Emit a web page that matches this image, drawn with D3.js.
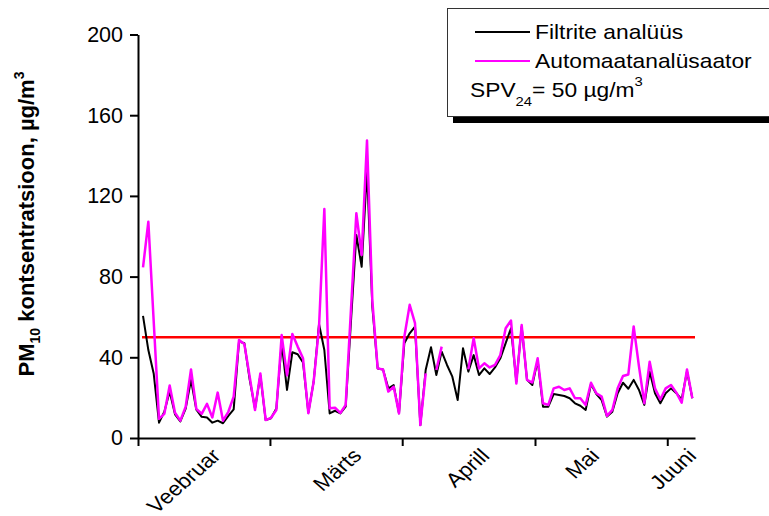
<!DOCTYPE html>
<html>
<head>
<meta charset="utf-8">
<script src="https://cdn.jsdelivr.net/npm/d3@7"></script>
<style>
  html, body { margin: 0; padding: 0; background: #fff; }
  svg { display: block; font-family: Arial, "Liberation Sans", sans-serif; }
</style>
</head>
<body>
<svg id="chart" width="769" height="516"></svg>
<script>
// daily values, Feb .. start of June (104 points)
var filtrite = [
  60.5, 43.6, 32, 7.6, 13, 23, 11.7, 8.2, 14.6, 28.8,
  14, 10.5, 10.2, 7.6, 8.6, 7.3, 11, 14.2, 47.8, 47,
  29, 14.6, 31, 8.9, 9.8, 14.6, 47, 23.8, 42.5, 41.5,
  37.5, 12.6, 28, 56.5, 43.6, 12.2, 13.5, 12.2, 15.5, 58,
  100.6, 84.9, 133, 65, 34.5, 34, 24.6, 26.2, 12.2, 47,
  51.9, 55.2, 6.4, 33.7, 45, 31.2, 42.8, 36.2, 30.4, 18.8,
  44.5, 32.9, 41.1, 31.2, 34.5, 31.7, 35, 39.5, 47, 54.4,
  27.9, 55.2, 28.8, 26.3, 38.5, 15.5, 15.5, 21.8, 21.3, 20.8,
  19.7, 17.2, 16, 13.9, 26.8, 21.8, 18.8, 10.6, 13, 22.2,
  27.4, 24.4, 28.8, 23.8, 16.4, 32.9, 22.2, 17.2, 22.2, 24.6,
  22.2, 19.1, 33, 19.7
];
var automaat = [
  84.6, 107.2, 58, 9.5, 12, 26, 12.5, 8.6, 15.5, 34,
  14.4, 12, 16.9, 10.2, 22.5, 8.6, 13, 20.5, 48.6, 46.6,
  30.4, 13.9, 32, 8.9, 10, 13.9, 51, 31, 51.6, 45.3,
  39.5, 12.3, 28, 55, 113.5, 14.7, 15, 12.4, 16.4, 64,
  111.4, 90.7, 147.5, 68, 34.5, 34, 23, 25.4, 12.2, 50.2,
  66, 56.9, 6.4, 32, null, 33.7, 45.3, null, null, null,
  null, 34, 49.4, 34.5, 37, 35, 36.2, 41.1, 54.4, 58.2,
  27, 56, 28.8, 27.5, 39.5, 17.2, 16.4, 24.6, 25.4, 23.8,
  24.6, 19.7, 19.7, 16.4, 27.4, 22.2, 20.5, 11, 13.9, 24.6,
  30.7, 31.5, 55.3, 35.4, 17.2, 37.8, 24.6, 19.1, 24.6, 26.3,
  22.5, 17.5, 34, 19.7
];
var limitValue = 50;
var yTicks = [0, 40, 80, 120, 160, 200];
var tickPos = [-0.94, 23.8, 48.6, 73.5, 98.3];
var monthLabels = ["Veebruar", "Märts", "Aprill", "Mai", "Juuni"];
var monthPos = [14.8, 41.2, 65.2, 85.8, 104];

// the original picture is a bit wider than tall, text looks stretched
var stretch = "scale(1.14,1)";

var svg = d3.select("#chart");
svg.append("rect").attr("width", 769).attr("height", 516).attr("fill", "#fff");

var x = d3.scaleLinear().domain([-0.94, 103.5]).range([138, 695]);
var y = d3.scaleLinear().domain([0, 200]).range([438, 34.5]);

// y axis
var yAxis = svg.append("g")
    .attr("transform", "translate(138,0)")
    .call(d3.axisLeft(y).tickValues(yTicks).tickSize(8).tickSizeOuter(0).tickPadding(7));
yAxis.selectAll("text").attr("font-size", 21.5).attr("fill", "#000")
    .attr("font-family", "Arial, 'Liberation Sans', sans-serif");

// x axis (ticks only, labels rotated below)
svg.append("g")
    .attr("transform", "translate(0,438)")
    .call(d3.axisBottom(x).tickValues(tickPos).tickSize(8).tickSizeOuter(0).tickFormat(""));

svg.selectAll(".domain, .tick line").attr("stroke", "#000").attr("stroke-width", 2);

svg.append("g").selectAll("text")
  .data(monthLabels)
  .join("text")
    .attr("transform", function(d, i) {
      return "translate(" + x(monthPos[i]) + ",457) " + stretch + " rotate(-45)";
    })
    .attr("text-anchor", "end")
    .attr("font-size", 20)
    .attr("fill", "#000")
    .text(function(d) { return d; });

// y title
var title = svg.append("text")
    .attr("transform", "translate(34,224) rotate(-90)")
    .attr("text-anchor", "middle")
    .attr("font-size", 22)
    .attr("font-weight", "bold");
title.append("tspan").text("PM");
title.append("tspan").attr("font-size", 14).attr("dy", 6).text("10");
title.append("tspan").attr("dy", -6).text(" kontsentratsioon, µg/m");
title.append("tspan").attr("font-size", 14).attr("dy", -10).text("3");

// limit line
svg.append("line")
    .attr("x1", x(0) - 1).attr("x2", x(103.5))
    .attr("y1", y(limitValue)).attr("y2", y(limitValue))
    .attr("stroke", "#ff0000").attr("stroke-width", 2.5);

var line = d3.line()
    .defined(function(d) { return d != null; })
    .x(function(d, i) { return x(i); })
    .y(function(d) { return y(d); });

svg.append("path").datum(filtrite)
    .attr("d", line).attr("fill", "none")
    .attr("stroke", "#000").attr("stroke-width", 2).attr("stroke-linejoin", "round");

svg.append("path").datum(automaat)
    .attr("d", line).attr("fill", "none")
    .attr("stroke", "#ff00ff").attr("stroke-width", 2.5).attr("stroke-linejoin", "round");

// legend
var lg = svg.append("g");
lg.append("rect").attr("x", 453).attr("y", 14).attr("width", 330).attr("height", 109).attr("fill", "#000");
lg.append("rect").attr("x", 447.5).attr("y", 8.5).attr("width", 330).attr("height", 108)
    .attr("fill", "#fff").attr("stroke", "#333").attr("stroke-width", 1);

lg.append("line").attr("x1", 475).attr("x2", 530).attr("y1", 32).attr("y2", 32)
    .attr("stroke", "#000").attr("stroke-width", 2);
lg.append("text").attr("transform", "translate(535,39) " + stretch)
    .attr("font-size", 20).text("Filtrite analüüs");

lg.append("line").attr("x1", 475).attr("x2", 530).attr("y1", 61).attr("y2", 61)
    .attr("stroke", "#ff00ff").attr("stroke-width", 2);
lg.append("text").attr("transform", "translate(535,68) " + stretch)
    .attr("font-size", 20).text("Automaatanalüsaator");

var spv = lg.append("text").attr("transform", "translate(470,97) " + stretch).attr("font-size", 20);
spv.append("tspan").text("SPV");
spv.append("tspan").attr("font-size", 13).attr("dy", 9).text("24");
spv.append("tspan").attr("dy", -9).text("= 50 µg/m");
spv.append("tspan").attr("font-size", 13).attr("dy", -11).text("3");
</script>
</body>
</html>
